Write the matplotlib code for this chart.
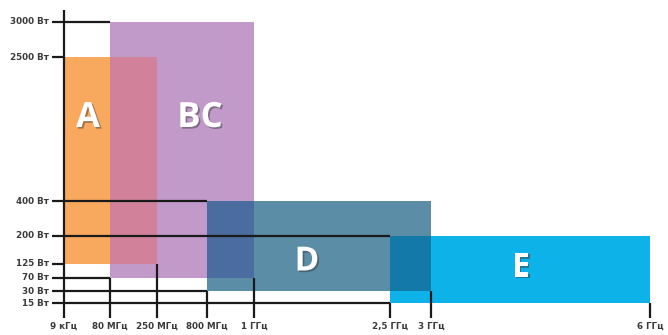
import numpy as np
import matplotlib
matplotlib.use("Agg")
import matplotlib.pyplot as plt
from matplotlib.patches import Rectangle
import matplotlib.patheffects as pe

# ---------------- data ----------------
freq_labels = ['9 кГц', '80 МГц', '250 МГц', '800 МГц', '1 ГГц', '2,5 ГГц', '3 ГГц', '6 ГГц']
freq_mhz = [0.009, 80, 250, 800, 1000, 2500, 3000, 6000]

power_labels = ['15 Вт', '30 Вт', '70 Вт', '125 Вт', '200 Вт', '400 Вт', '2500 Вт', '3000 Вт']
power_w = [15, 30, 70, 125, 200, 400, 2500, 3000]

band_names = ['A', 'BC', 'D', 'E']
band_f_lo = [0.009, 80, 800, 2500]
band_f_hi = [250, 1000, 3000, 6000]
band_p_lo = [125, 70, 30, 15]
band_p_hi = [2500, 3000, 400, 200]

# ---------------- style / layout ----------------
W, H = 668, 335
x_anchor_px = [64, 110, 157, 207, 254, 390, 431, 650]
y_anchor_px = [H - v for v in [303, 291, 278, 264, 236, 201, 57, 22]]

band_colors = ['#F8A95E', '#C19AC9', '#5B8DA7', '#0DB2E8']
overlap_colors = {(0, 1): '#D1829A', (1, 2): '#4A6C9E', (2, 3): '#1379A6'}
label_px = {'A': (88, 118), 'BC': (200, 118), 'D': (307, 262), 'E': (521, 268)}
label_size = {'A': 25, 'BC': 25, 'D': 24, 'E': 24}
line_col = '#1a1a1a'
text_col = '#3a3a3a'
lw = 1.6


def piecewise(xs, ys):
    xs = np.asarray(xs, float)
    ys = np.asarray(ys, float)
    sl0 = (ys[1] - ys[0]) / (xs[1] - xs[0])
    sl1 = (ys[-1] - ys[-2]) / (xs[-1] - xs[-2])

    def f(v):
        v = np.asarray(v, float)
        out = np.interp(v, xs, ys)
        out = np.where(v < xs[0], ys[0] + (v - xs[0]) * sl0, out)
        out = np.where(v > xs[-1], ys[-1] + (v - xs[-1]) * sl1, out)
        return out
    return f


fx = piecewise(freq_mhz, x_anchor_px)
ifx = piecewise(x_anchor_px, freq_mhz)
fy = piecewise(power_w, y_anchor_px)
ify = piecewise(y_anchor_px, power_w)

fig = plt.figure(figsize=(W / 100, H / 100), dpi=100)
ax = fig.add_axes([0, 0, 1, 1])
ax.set_xscale('function', functions=(fx, ifx))
ax.set_yscale('function', functions=(fy, ify))
ax.set_xlim(float(ifx(0)), float(ifx(W)))
ax.set_ylim(float(ify(0)), float(ify(H)))
ax.axis('off')

# bands
for i in range(len(band_names)):
    ax.add_patch(Rectangle((band_f_lo[i], band_p_lo[i]),
                           band_f_hi[i] - band_f_lo[i], band_p_hi[i] - band_p_lo[i],
                           facecolor=band_colors[i], edgecolor='none', zorder=1))
# overlaps
for (i, j), c in overlap_colors.items():
    x0 = max(band_f_lo[i], band_f_lo[j]); x1 = min(band_f_hi[i], band_f_hi[j])
    y0 = max(band_p_lo[i], band_p_lo[j]); y1 = min(band_p_hi[i], band_p_hi[j])
    if x1 > x0 and y1 > y0:
        ax.add_patch(Rectangle((x0, y0), x1 - x0, y1 - y0, facecolor=c,
                               edgecolor='none', zorder=2))

# axis lines
y_bottom = float(ify(17))
y_top = float(ify(325))
x_stub = float(ifx(52))
ax.vlines(freq_mhz[0], y_bottom, y_top, color=line_col, lw=lw, zorder=4)
for i in range(len(band_names)):
    for p in (band_p_lo[i], band_p_hi[i]):
        ax.hlines(p, x_stub, band_f_lo[i], color=line_col, lw=lw, zorder=4)
    for f in (band_f_lo[i], band_f_hi[i]):
        if f != freq_mhz[0]:
            ax.vlines(f, y_bottom, band_p_lo[i], color=line_col, lw=lw, zorder=4)

# tick labels
lab_font = ['Liberation Sans Narrow', 'DejaVu Sans']
for lbl, p in zip(power_labels, power_w):
    ax.text(float(ifx(49)), p, lbl, ha='right', va='center', fontsize=6.3,
            fontweight='bold', color=text_col, family=lab_font)
y_lab = float(ify(9))
for lbl, f in zip(freq_labels, freq_mhz):
    ax.text(f, y_lab, lbl, ha='center', va='center', fontsize=6.3,
            fontweight='bold', color=text_col, family=lab_font)

# band letters
for name in band_names:
    px, py = label_px[name]
    ax.text(px / W, 1 - py / H, name, transform=fig.transFigure, ha='center',
            va='center', fontsize=label_size[name], color='white', fontweight='bold',
            family=['Open Sans', 'DejaVu Sans'], zorder=6,
            path_effects=[pe.withSimplePatchShadow(offset=(1.2, -1.2),
                                                   shadow_rgbFace='#333333', alpha=0.45)])

fig.savefig('out.png', dpi=100, facecolor='white')
